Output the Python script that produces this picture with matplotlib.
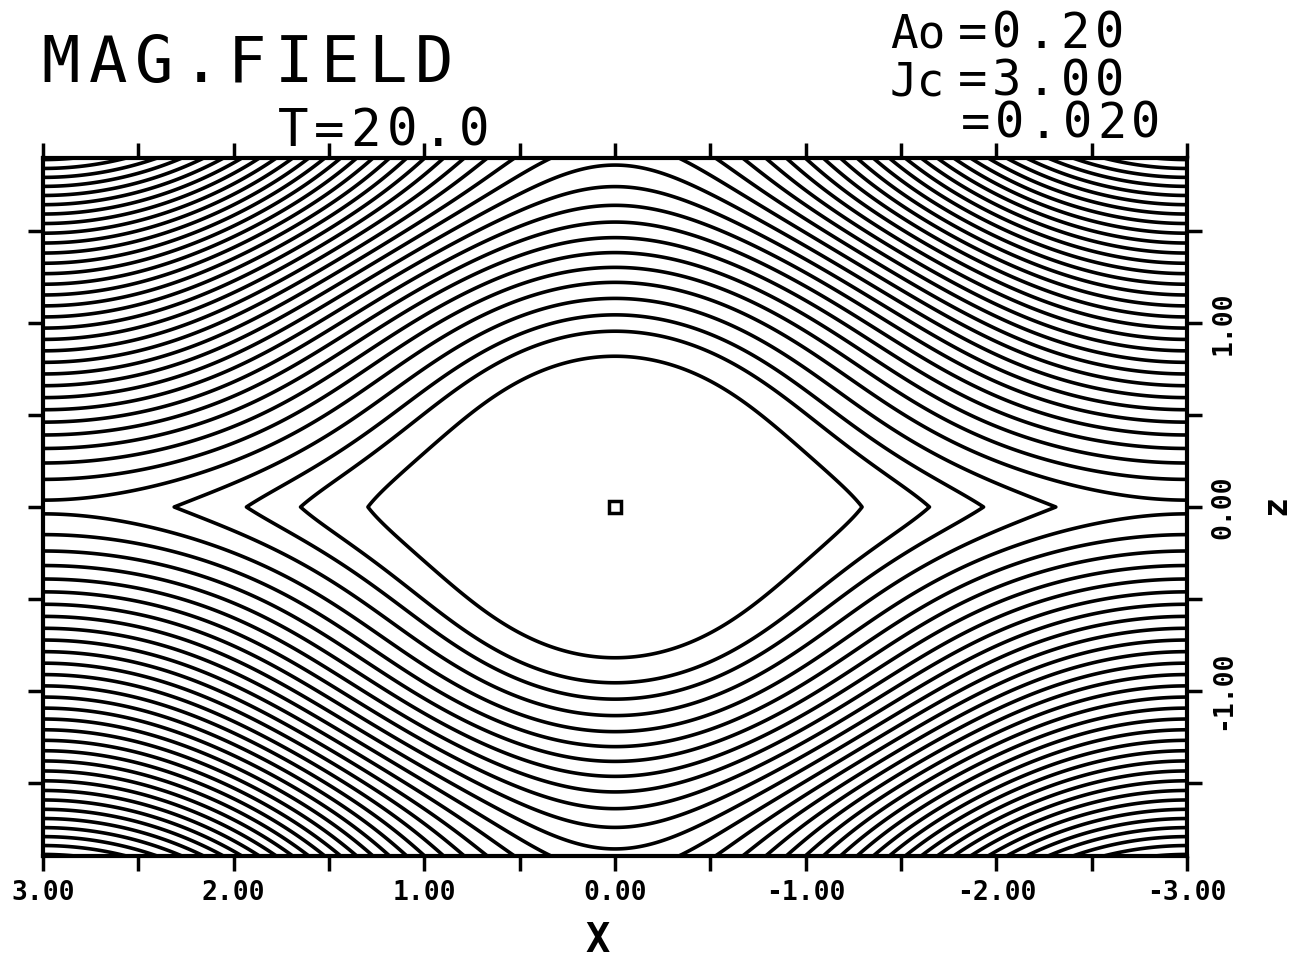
import numpy as np
import matplotlib
matplotlib.use('Agg')
import matplotlib.pyplot as plt

# crossings of the field lines
# z where the open lines meet the x=+-3 edges (from the X point upwards)
edge_z = [0.054, 0.147, 0.234, 0.316, 0.392, 0.463, 0.533, 0.599, 0.664, 0.724,
          0.789, 0.844, 0.909, 0.969, 1.034, 1.100, 1.160, 1.214, 1.268, 1.323,
          1.377, 1.443, 1.497, 1.541, 1.595, 1.644, 1.698, 1.742, 1.796, 1.840,
          1.894]
# z of the open lines passing over the island at x=0
centre_open_z = [1.219, 1.301, 1.383, 1.470, 1.551, 1.644, 1.742, 1.862]
# closed island contours: half width on z=0 and top at x=0 (outer -> inner)
island_half_x = [2.29, 1.92, 1.64, 1.29]
island_top_z = [1.138, 1.056, 0.953, 0.817]
o_point = (0.0, 0.0)

x_ticks = [3.0, 2.5, 2.0, 1.5, 1.0, 0.5, 0.0, -0.5, -1.0, -1.5, -2.0, -2.5, -3.0]
z_ticks = [-1.5, -1.0, -0.5, 0.0, 0.5, 1.0, 1.5]
x_lim = (3.0, -3.0)
z_lim = (-1.9, 1.9)

W_PX, H_PX = 1292, 961
k = np.pi / 3.0

# level spacing = 1; fit island depth E0 and offset from the island widths
g = 1.0 + np.cos(k * np.array(island_half_x))
n = np.arange(1, len(island_half_x) + 1)
E0, delta = np.polyfit(g, n, 1)
island_levels = -E0 * g
open_levels = delta + np.arange(len(edge_z))

# edge profile e(|z|) and centre profile c(z)
e_coef = np.polyfit(np.r_[0.0, edge_z], np.r_[0.0, open_levels], 5)
cz = np.r_[0.0, island_top_z, centre_open_z]
cv = np.r_[-2 * E0, island_levels, open_levels[:len(centre_open_z)]]
c_coef = np.polyfit(cz ** 2, cv, 4)

x = np.linspace(-3, 3, 721)
z = np.linspace(z_lim[0], z_lim[1], 561)
X, Z = np.meshgrid(x, z)
wgt = (1 - np.cos(k * X)) / 2
psi = wgt * np.polyval(e_coef, np.abs(Z)) + (1 - wgt) * np.polyval(c_coef, Z ** 2)

levels = np.sort(np.r_[island_levels, open_levels])

fig = plt.figure(figsize=(W_PX / 100, H_PX / 100), dpi=100)
ax = fig.add_axes([43 / W_PX, 1 - 856 / H_PX, (1187 - 43) / W_PX, (856 - 158) / H_PX])
ax.contour(X, Z, psi, levels=levels, colors='k', linewidths=2.6, linestyles='solid')
ax.plot([o_point[0]], [o_point[1]], 's', ms=9, mfc='none', mec='k', mew=2.5)

ax.set_xlim(*x_lim)
ax.set_ylim(*z_lim)
mono = 'DejaVu Sans Mono'
ax.set_xticks(x_ticks)
ax.set_xticklabels([f'{v:.2f}' if v == int(v) else '' for v in x_ticks],
                   family=mono, weight='bold', fontsize=19)
ax.yaxis.tick_right()
ax.set_yticks(z_ticks)
ax.set_yticklabels([f'{v:.2f}' if v == int(v) else '' for v in z_ticks],
                   family=mono, weight='bold', fontsize=19, rotation=90, va='center')
ax.tick_params(axis='both', direction='out', length=11, width=2.5, top=True, left=True,
               right=True, bottom=True, pad=6)
for sp in ax.spines.values():
    sp.set_linewidth(3)


def stroke_text(s, x0, base, size, step, weight='normal'):
    # plotter style lettering: fixed advance per character
    for i, ch in enumerate(s):
        fig.text((x0 + i * step) / W_PX, 1 - base / H_PX, ch, family=mono, fontsize=size,
                 weight=weight, ha='center', va='baseline')


stroke_text('MAG.FIELD', 61, 82, 46, 46.6)
stroke_text('T=20.0', 293, 146, 36.5, 36.2)
fig.text(890 / W_PX, 1 - 48 / H_PX, 'Ao', family=mono, fontsize=33, ha='left', va='baseline')
stroke_text('=0.20', 972, 48, 35, 34.5)
fig.text(890 / W_PX, 1 - 95 / H_PX, 'Jc', family=mono, fontsize=33, ha='left', va='baseline')
stroke_text('=3.00', 972, 95, 35, 34.5)
stroke_text('=0.020', 975, 138, 35, 34.2)
fig.text(598 / W_PX, 1 - 952 / H_PX, 'X', family=mono, fontsize=29, weight='bold',
         ha='center', va='baseline')
fig.text(1276 / W_PX, 1 - 505 / H_PX, 'z', family=mono, fontsize=24, weight='bold',
         ha='center', va='center', rotation=90)

fig.savefig('out.png', dpi=100, facecolor='white')
